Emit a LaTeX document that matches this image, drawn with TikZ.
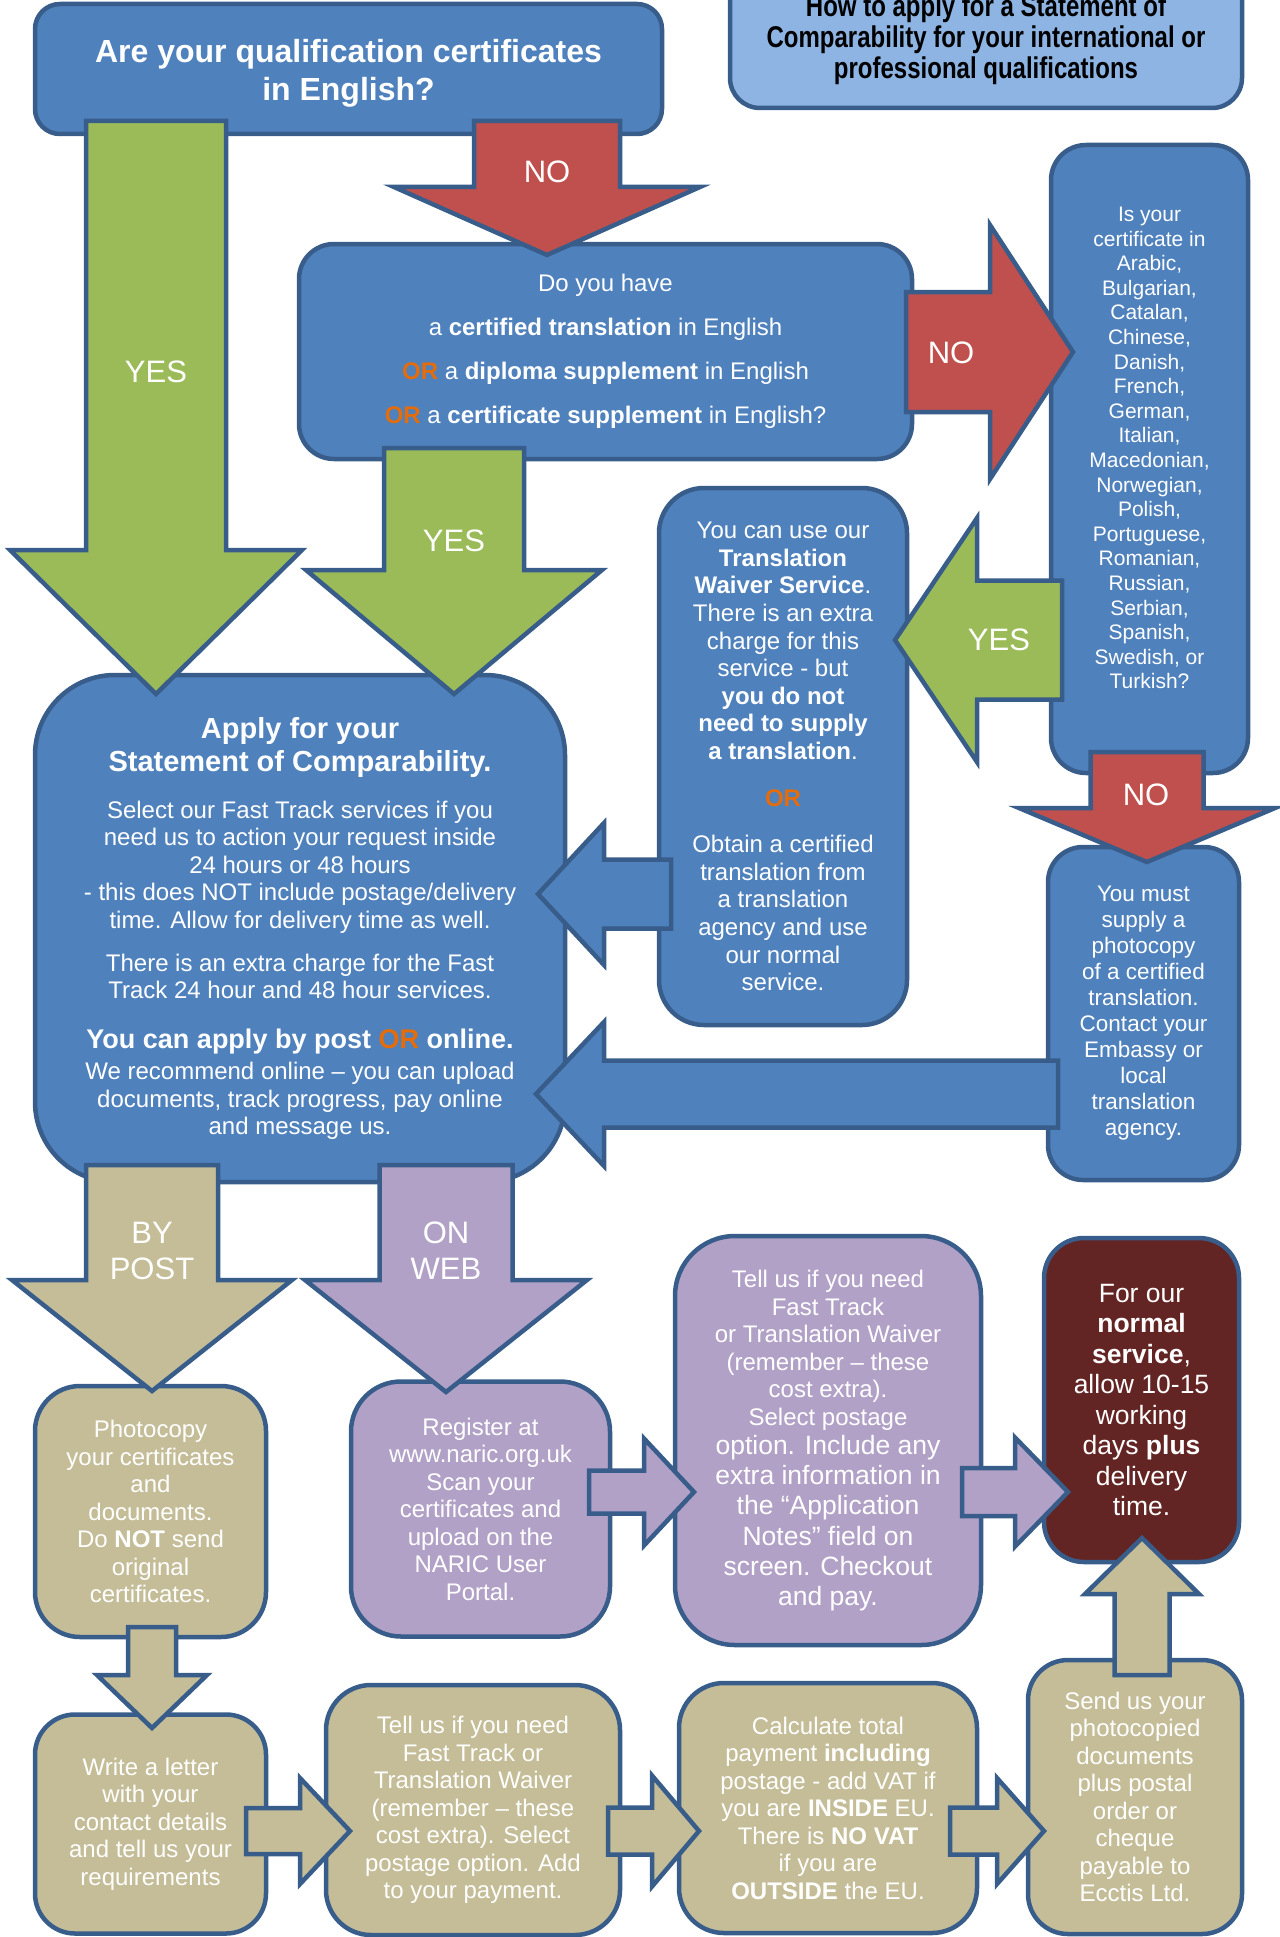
\documentclass[tikz,border=0pt]{standalone}
\usepackage{fontspec}
\setmainfont{Liberation Sans}
\newfontfamily\narrowfont[FakeStretch=0.8]{Liberation Sans}
\usetikzlibrary{calc}

\definecolor{boxblue}{HTML}{4F81BD}
\definecolor{edgeblue}{HTML}{385D8A}
\definecolor{titleblue}{HTML}{8EB4E3}
\definecolor{noRed}{HTML}{C0504D}
\definecolor{yesGreen}{HTML}{9BBB59}
\definecolor{postTan}{HTML}{C4BD97}
\definecolor{webLilac}{HTML}{B2A1C7}
\definecolor{darkRed}{HTML}{632523}
\definecolor{orOrange}{HTML}{E46C0A}

\newcommand{\orword}{\textcolor{orOrange}{\bfseries OR}}
\newcommand{\bigline}[1]{{\fontsize{26.5}{30}\selectfont #1}}

% fat arrow: style, from, to, shaft half width, head half width, head length
\newcommand{\fatarrow}[6]{%
  \path (#3) coordinate (fa-tip) ($(#3)!#6!(#2)$) coordinate (fa-base) (#2) coordinate (fa-tail);
  \draw[#1] ($(fa-tail)!#4!90:(fa-tip)$) -- ($(fa-base)!#4!90:(fa-tip)$)
    -- ($(fa-base)!#5!90:(fa-tip)$) -- (fa-tip) -- ($(fa-base)!#5!-90:(fa-tip)$)
    -- ($(fa-base)!#4!-90:(fa-tip)$) -- ($(fa-tail)!#4!-90:(fa-tip)$) -- cycle;
}

\tikzset{
  box/.style={draw=edgeblue, line width=4.5pt, text=white, align=center, inner sep=0pt},
  bluebox/.style={box, fill=boxblue},
  tanbox/.style={box, fill=postTan},
  lilacbox/.style={box, fill=webLilac},
  boxtext/.style={text=white, align=center, inner sep=0pt},
  arrowedge/.style={draw=edgeblue, line width=4.5pt, line join=miter},
  greenarrow/.style={arrowedge, fill=yesGreen},
  redarrow/.style={arrowedge, fill=noRed},
  bluearrow/.style={arrowedge, fill=boxblue},
  tanarrow/.style={arrowedge, fill=postTan},
  lilacarrow/.style={arrowedge, fill=webLilac},
  arrowlabel/.style={text=white, align=center, font=\fontsize{31}{36}\selectfont},
}

\begin{document}
\begin{tikzpicture}[x=1pt, y=-1pt]
    \useasboundingbox (0,0) rectangle (1279,1937);

    % Boxes
    \node[bluebox, rounded corners=25pt, minimum width=627pt, minimum height=130pt] (english) at (348.5,69) {};
    \node[boxtext, font=\bfseries\fontsize{32}{38}\selectfont] (english-text) at ($(english.center)+(0,4)$)
          {Are your qualification certificates\\in English?};
    \node[box, fill=titleblue, rounded corners=30pt, minimum width=512pt, minimum height=142pt] (title) at (986,37) {};
    \node[boxtext, text=black, font=\narrowfont\bfseries\fontsize{30}{31}\selectfont] (title-text) at (986,40)
          {How to apply for a Statement of\\Comparability for your international or\\professional qualifications};
    \node[bluebox, rounded corners=35pt, minimum width=613pt, minimum height=215pt,
          font=\fontsize{24}{44}\selectfont] (supplement) at (605.5,351.5)
          {Do you have\\a \textbf{certified translation} in English\\\orword{} a \textbf{diploma supplement} in English\\\orword{} a \textbf{certificate supplement} in English?};
    \node[bluebox, rounded corners=35pt, minimum width=197pt, minimum height=628pt] (language) at (1149.5,459) {};
    \node[boxtext, font=\fontsize{21}{24.6}\selectfont] (language-text) at ($(language.center)+(0,-11)$)
          {Is your\\certificate in\\Arabic,\\Bulgarian,\\Catalan,\\Chinese,\\Danish,\\French,\\German,\\Italian,\\Macedonian,\\Norwegian,\\Polish,\\Portuguese,\\Romanian,\\Russian,\\Serbian,\\Spanish,\\Swedish, or\\Turkish?};
    \node[bluebox, rounded corners=45pt, minimum width=248pt, minimum height=537pt,
          font=\fontsize{24}{27.6}\selectfont] (waiver) at (783,756.5)
          {You can use our\\\textbf{Translation}\\\textbf{Waiver Service}.\\There is an extra\\charge for this\\service - but\\\textbf{you do not}\\\textbf{need to supply}\\\textbf{a translation}.\\[19pt]\orword\\[19pt]Obtain a certified\\translation from\\a translation\\agency and use\\our normal\\service.};
    \node[bluebox, rounded corners=35pt, minimum width=191pt, minimum height=333pt,
          font=\fontsize{22.5}{26}\selectfont] (photocopy) at (1143.5,1013.5)
          {You must\\supply a\\photocopy\\of a certified\\translation.\\Contact your\\Embassy or\\local\\translation\\agency.};
    \node[bluebox, rounded corners=80pt, minimum width=530pt, minimum height=507pt,
          font=\fontsize{24}{27.5}\selectfont] (apply) at (300,928.5)
          {{\bfseries\fontsize{29}{33}\selectfont Apply for your}\\[5.5pt]
           {\bfseries\fontsize{29}{33}\selectfont Statement of Comparability.}\\[19.5pt]
           Select our Fast Track services if you\\need us to action your request inside\\24 hours or 48 hours\\- this does NOT include postage/delivery\\time. Allow for delivery time as well.\\[15.5pt]
           There is an extra charge for the Fast\\Track 24 hour and 48 hour services.\\[22.5pt]
           {\bfseries\fontsize{27}{31}\selectfont You can apply by post \textcolor{orOrange}{OR} online.}\\[3.5pt]
           We recommend online – you can upload\\documents, track progress, pay online\\and message us.};
    \node[tanbox, rounded corners=45pt, minimum width=231pt, minimum height=251pt,
          font=\fontsize{24}{27.5}\selectfont] (postcopy) at (150.5,1511.5)
          {Photocopy\\your certificates\\and\\documents.\\Do \textbf{NOT} send\\original\\certificates.};
    \node[lilacbox, rounded corners=50pt, minimum width=259pt, minimum height=255pt,
          font=\fontsize{24}{27.5}\selectfont] (register) at (480.5,1509)
          {Register at\\www.naric.org.uk\\Scan your\\certificates and\\upload on the\\NARIC User\\Portal.};
    \node[lilacbox, rounded corners=60pt, minimum width=306pt, minimum height=409pt,
          font=\fontsize{24}{27.6}\selectfont] (webextras) at (828,1440.5)
          {Tell us if you need\\Fast Track\\or Translation Waiver\\(remember – these\\cost extra).\\Select postage\\[1.4pt]
           \bigline{option. Include any}\\[2.6pt]\bigline{extra information in}\\[2.6pt]\bigline{the “Application}\\[2.6pt]
           \bigline{Notes” field on}\\[2.6pt]\bigline{screen. Checkout}\\[2.6pt]\bigline{and pay.}};
    \node[box, fill=darkRed, rounded corners=40pt, minimum width=195pt, minimum height=324pt,
          font=\fontsize{26.5}{30.5}\selectfont] (normal) at (1141.5,1400)
          {For our\\\textbf{normal}\\\textbf{service},\\allow 10-15\\working\\days \textbf{plus}\\delivery\\time.};
    \node[tanbox, rounded corners=40pt, minimum width=231pt, minimum height=219pt,
          font=\fontsize{24}{27.5}\selectfont] (letter) at (150.5,1824)
          {Write a letter\\with your\\contact details\\and tell us your\\requirements};
    \node[tanbox, rounded corners=45pt, minimum width=294pt, minimum height=250pt,
          font=\fontsize{24}{27.5}\selectfont] (postextras) at (473,1810)
          {Tell us if you need\\Fast Track or\\Translation Waiver\\(remember – these\\cost extra). Select\\postage option. Add\\to your payment.};
    \node[tanbox, rounded corners=45pt, minimum width=298pt, minimum height=250pt,
          font=\fontsize{24}{27.5}\selectfont] (payment) at (828,1808)
          {Calculate total\\payment \textbf{including}\\postage - add VAT if\\you are \textbf{INSIDE} EU.\\There is \textbf{NO VAT}\\if you are\\\textbf{OUTSIDE} the EU.};
    \node[tanbox, rounded corners=40pt, minimum width=214pt, minimum height=274pt,
          font=\fontsize{24}{27.5}\selectfont] (send) at (1135,1797)
          {Send us your\\photocopied\\documents\\plus postal\\order or\\cheque\\payable to\\Ecctis Ltd.};

    % Arrow ends
    \coordinate (yesA-from) at (156,121);   \coordinate (yesA-to) at (156,694);
    \coordinate (noA-from) at (547,121);    \coordinate (noA-to) at (547,255);
    \coordinate (yesB-from) at (454,448);   \coordinate (yesB-to) at (454,694);
    \coordinate (noB-from) at (906,352);    \coordinate (noB-to) at (1073,352);
    \coordinate (yesC-from) at (1062,640);  \coordinate (yesC-to) at (895,640);
    \coordinate (backA-from) at (671,894);  \coordinate (backA-to) at (538,894);
    \coordinate (backB-from) at (1058,1094);\coordinate (backB-to) at (536,1094);
    \coordinate (noC-from) at (1147,752);   \coordinate (noC-to) at (1147,862);
    \coordinate (post-from) at (152,1165);  \coordinate (post-to) at (152,1391);
    \coordinate (web-from) at (446,1165);   \coordinate (web-to) at (446,1392);
    \coordinate (webA-from) at (589,1492);  \coordinate (webA-to) at (694,1492);
    \coordinate (webB-from) at (962,1492);  \coordinate (webB-to) at (1068,1492);
    \coordinate (postA-from) at (152,1627); \coordinate (postA-to) at (152,1728);
    \coordinate (postB-from) at (246,1831); \coordinate (postB-to) at (350,1831);
    \coordinate (postC-from) at (608,1831); \coordinate (postC-to) at (699,1831);
    \coordinate (postD-from) at (950,1831); \coordinate (postD-to) at (1044,1831);
    \coordinate (postE-from) at (1142,1675);\coordinate (postE-to) at (1142,1538);

    % Arrows
    \fatarrow{greenarrow}{yesA-from}{yesA-to}{70pt}{146pt}{144pt}
    \fatarrow{redarrow}{noA-from}{noA-to}{73pt}{153pt}{68pt}
    \fatarrow{greenarrow}{yesB-from}{yesB-to}{70pt}{148pt}{124pt}
    \fatarrow{redarrow}{noB-from}{noB-to}{60pt}{127pt}{83pt}
    \fatarrow{greenarrow}{yesC-from}{yesC-to}{59.5pt}{122pt}{82pt}
    \fatarrow{bluearrow}{backA-from}{backA-to}{34.5pt}{71pt}{66pt}
    \fatarrow{bluearrow}{backB-from}{backB-to}{33.5pt}{72pt}{68pt}
    \fatarrow{redarrow}{noC-from}{noC-to}{56.5pt}{128pt}{54pt}
    \fatarrow{tanarrow}{post-from}{post-to}{66pt}{140pt}{111pt}
    \fatarrow{lilacarrow}{web-from}{web-to}{66.5pt}{141pt}{112pt}
    \fatarrow{lilacarrow}{webA-from}{webA-to}{21.5pt}{53.5pt}{50pt}
    \fatarrow{lilacarrow}{webB-from}{webB-to}{24pt}{54.5pt}{53pt}
    \fatarrow{tanarrow}{postA-from}{postA-to}{24pt}{55pt}{53pt}
    \fatarrow{tanarrow}{postB-from}{postB-to}{23pt}{53pt}{50pt}
    \fatarrow{tanarrow}{postC-from}{postC-to}{23.5pt}{55.5pt}{47pt}
    \fatarrow{tanarrow}{postD-from}{postD-to}{23.5pt}{53pt}{47pt}
    \fatarrow{tanarrow}{postE-from}{postE-to}{27.5pt}{57pt}{56pt}

    % Arrow labels
    \node[arrowlabel] (yesA-label) at (156,372) {YES};
    \node[arrowlabel] (noA-label) at (547,172) {NO};
    \node[arrowlabel] (yesB-label) at (454,541) {YES};
    \node[arrowlabel] (noB-label) at (951,353) {NO};
    \node[arrowlabel] (yesC-label) at (999,640) {YES};
    \node[arrowlabel] (noC-label) at (1146,795) {NO};
    \node[arrowlabel] (post-label) at (152,1251) {BY\\POST};
    \node[arrowlabel] (web-label) at (446,1251) {ON\\WEB};
\end{tikzpicture}
\end{document}
